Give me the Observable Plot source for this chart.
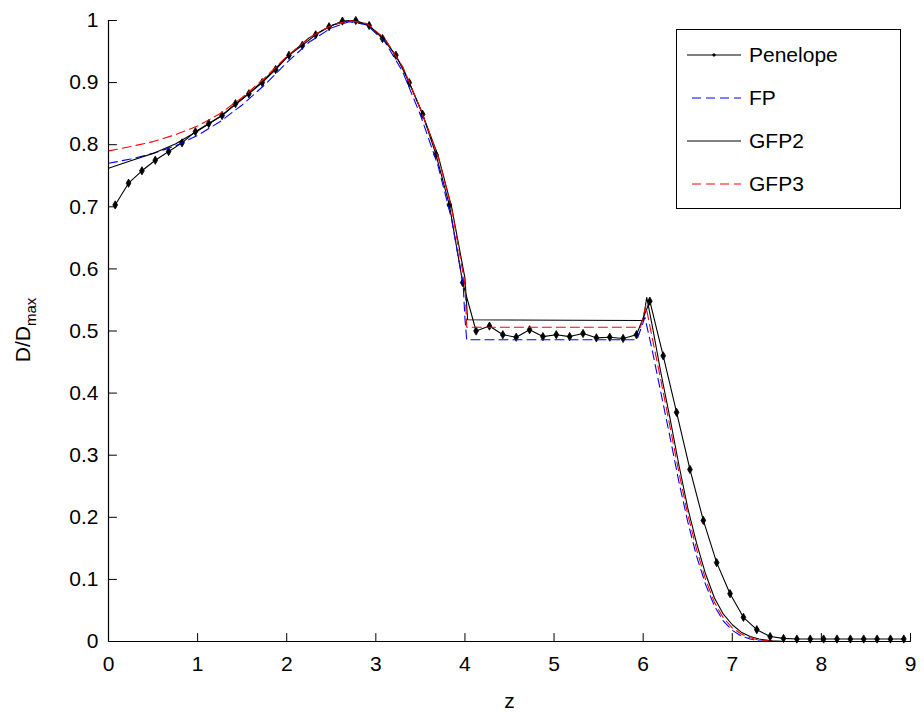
<!DOCTYPE html>
<html>
<head>
<meta charset="utf-8">
<script src="https://cdn.jsdelivr.net/npm/d3@7"></script>
<script src="https://cdn.jsdelivr.net/npm/@observablehq/plot@0.6"></script>
<style>
  html, body { margin: 0; padding: 0; background: #fff; }
  #wrap { position: relative; width: 924px; height: 717px; font-family: "Liberation Sans", Arial, sans-serif; }
  #legend { position: absolute; left: 676px; top: 29px; width: 225px; height: 180px; border: 1px solid #000; background: #fff; box-sizing: border-box; }
  .entry { position: absolute; left: 8px; height: 24px; display: flex; align-items: center; font-size: 21px; color: #000; }
  .entry svg { margin-right: 6px; }
</style>
</head>
<body>
<div id="wrap"></div>
<script>
// ---- data ----
const penZ = [0.075,0.225,0.375,0.525,0.675,0.825,0.975,1.125,1.275,1.425,1.575,1.725,1.875,2.025,2.175,2.325,2.475,2.625,2.775,2.925,3.075,3.225,3.375,3.525,3.675,3.825,3.975,4.125,4.275,4.425,4.575,4.725,4.875,5.025,5.175,5.325,5.475,5.625,5.775,5.925,6.075,6.225,6.375,6.525,6.675,6.825,6.975,7.125,7.275,7.425,7.575,7.725,7.875,8.025,8.175,8.325,8.475,8.625,8.775,8.925];
const penD = [0.703,0.738,0.758,0.775,0.789,0.803,0.821,0.834,0.847,0.866,0.882,0.900,0.921,0.944,0.960,0.977,0.990,0.999,1.000,0.992,0.971,0.944,0.900,0.849,0.784,0.703,0.578,0.500,0.508,0.494,0.490,0.502,0.491,0.494,0.491,0.496,0.489,0.490,0.488,0.494,0.548,0.460,0.369,0.277,0.195,0.127,0.077,0.039,0.019,0.008,0.005,0.004,0.004,0.004,0.004,0.004,0.004,0.004,0.004,0.004];

const fpZ = [0,0.25,0.5,0.75,1.0,1.25,1.5,1.75,2.0,2.25,2.5,2.7,2.9,3.1,3.3,3.5,3.7,3.85,3.98,4.0,4.02,5.93,6.02,6.1,6.2,6.3,6.4,6.5,6.6,6.7,6.8,6.9,7.0,7.1,7.2,7.3,7.4,9.0];
const fpD = [0.770,0.777,0.786,0.798,0.815,0.837,0.864,0.896,0.932,0.965,0.988,0.998,0.993,0.966,0.918,0.848,0.765,0.680,0.575,0.520,0.486,0.486,0.522,0.470,0.400,0.330,0.258,0.193,0.137,0.092,0.057,0.033,0.018,0.009,0.004,0.001,0.000,0.000];

const gfp2Z = [0,0.25,0.5,0.75,1.0,1.25,1.5,1.75,2.0,2.25,2.5,2.7,2.9,3.1,3.3,3.5,3.7,3.85,4.0,4.03,6.0,6.04,6.1,6.2,6.3,6.4,6.5,6.6,6.7,6.8,6.9,7.0,7.1,7.2,7.3,7.45,7.6,9.0];
const gfp2D = [0.762,0.774,0.786,0.801,0.822,0.845,0.873,0.905,0.941,0.972,0.992,1.000,0.994,0.970,0.925,0.858,0.782,0.700,0.585,0.518,0.517,0.554,0.510,0.432,0.360,0.285,0.215,0.158,0.109,0.070,0.044,0.027,0.015,0.008,0.004,0.001,0.000,0.000];

const gfp3Z = [0,0.25,0.5,0.75,1.0,1.25,1.5,1.75,2.0,2.25,2.5,2.7,2.9,3.1,3.3,3.5,3.7,3.85,4.0,4.02,5.97,6.03,6.1,6.2,6.3,6.4,6.5,6.6,6.7,6.8,6.9,7.0,7.1,7.2,7.3,7.45,9.0];
const gfp3D = [0.790,0.797,0.805,0.816,0.830,0.850,0.876,0.907,0.942,0.972,0.992,1.000,0.995,0.971,0.926,0.858,0.780,0.698,0.575,0.506,0.506,0.541,0.490,0.420,0.347,0.273,0.205,0.148,0.100,0.063,0.038,0.022,0.012,0.006,0.002,0.000,0.000];

const xTicks = [0,1,2,3,4,5,6,7,8,9];
const yTicks = [0,0.1,0.2,0.3,0.4,0.5,0.6,0.7,0.8,0.9,1];
const yTickLabels = ["0","0.1","0.2","0.3","0.4","0.5","0.6","0.7","0.8","0.9","1"];
const seriesNames = ["Penelope","FP","GFP2","GFP3"];

// ---- build ----
const pen = penZ.map((z,i) => ({z, d: penD[i]}));
const fp = fpZ.map((z,i) => ({z, d: fpD[i]}));
const g2 = gfp2Z.map((z,i) => ({z, d: gfp2D[i]}));
const g3 = gfp3Z.map((z,i) => ({z, d: gfp3D[i]}));

const tickShape = {draw(ctx, l) { ctx.moveTo(0, 0); ctx.lineTo(0, -l); }};

const chart = Plot.plot({
  width: 924,
  height: 717,
  marginLeft: 108,
  marginRight: 14,
  marginTop: 20,
  marginBottom: 76,
  style: {fontFamily: "'Liberation Sans', Arial, sans-serif", fontSize: "21px", color: "#000", background: "#fff"},
  x: {domain: [0, 9]},
  y: {domain: [0, 1]},
  marks: [
    Plot.line(pen, {x: "z", y: "d", stroke: "#000", strokeWidth: 1.1}),
    Plot.dot(pen, {x: "z", y: "d", symbol: "diamond", r: 2.5, fill: "#000", stroke: "#000", strokeWidth: 0.8}),
    Plot.line(fp, {x: "z", y: "d", stroke: "#0000ff", strokeWidth: 1.1, strokeDasharray: "9,5"}),
    Plot.line(g2, {x: "z", y: "d", stroke: "#000", strokeWidth: 1.1}),
    Plot.line(g3, {x: "z", y: "d", stroke: "#ff0000", strokeWidth: 1.1, strokeDasharray: "9,5"}),
    // inward ticks
    Plot.vector(xTicks, {x: d => d, y: 0, length: 8, rotate: 0, anchor: "start", shape: tickShape, stroke: "#000", strokeWidth: 1}),
    Plot.vector(yTicks, {x: 0, y: d => d, length: 8, rotate: 90, anchor: "start", shape: tickShape, stroke: "#000", strokeWidth: 1}),
    Plot.axisX({ticks: xTicks, tickSize: 0, tickPadding: 15, tickFormat: d => String(d), label: "z", labelAnchor: "center", labelArrow: "none", labelOffset: 66, fontSize: 21}),
    Plot.axisY({ticks: yTicks, tickSize: 0, tickPadding: 10, tickFormat: (d, i) => yTickLabels[i], label: null, fontSize: 21}),
    Plot.ruleY([0], {stroke: "#000", strokeWidth: 1.2}),
    Plot.ruleX([0], {stroke: "#000", strokeWidth: 1.2})
  ]
});

const wrap = document.getElementById("wrap");
wrap.appendChild(chart);

// y axis label with subscript
const svg = d3.select(chart);
const yl = svg.append("text")
  .attr("transform", "translate(30,330) rotate(-90)")
  .attr("text-anchor", "middle")
  .attr("font-family", "'Liberation Sans', Arial, sans-serif")
  .attr("font-size", 21)
  .attr("fill", "#000");
yl.append("tspan").text("D/D");
yl.append("tspan").attr("font-size", 15).attr("dy", 6).text("max");

// legend
const legend = document.createElement("div");
legend.id = "legend";
const styles = [
  {stroke: "#000", dash: null, marker: true},
  {stroke: "#0000ff", dash: "9,5", marker: false},
  {stroke: "#000", dash: null, marker: false},
  {stroke: "#ff0000", dash: "9,5", marker: false}
];
seriesNames.forEach((name, i) => {
  const e = document.createElement("div");
  e.className = "entry";
  e.style.top = (13 + i * 43) + "px";
  const s = styles[i];
  e.innerHTML = `<svg width="58" height="20"><line x1="2" y1="10" x2="56" y2="10" stroke="${s.stroke}" stroke-width="1"${s.dash ? ` stroke-dasharray="${s.dash}" stroke-dashoffset="-5"` : ""}/>${s.marker ? `<path d="M29,8 L31,10 L29,12 L27,10 Z" fill="#000"/>` : ""}</svg><span>${name}</span>`;
  legend.appendChild(e);
});
wrap.appendChild(legend);
</script>
</body>
</html>
